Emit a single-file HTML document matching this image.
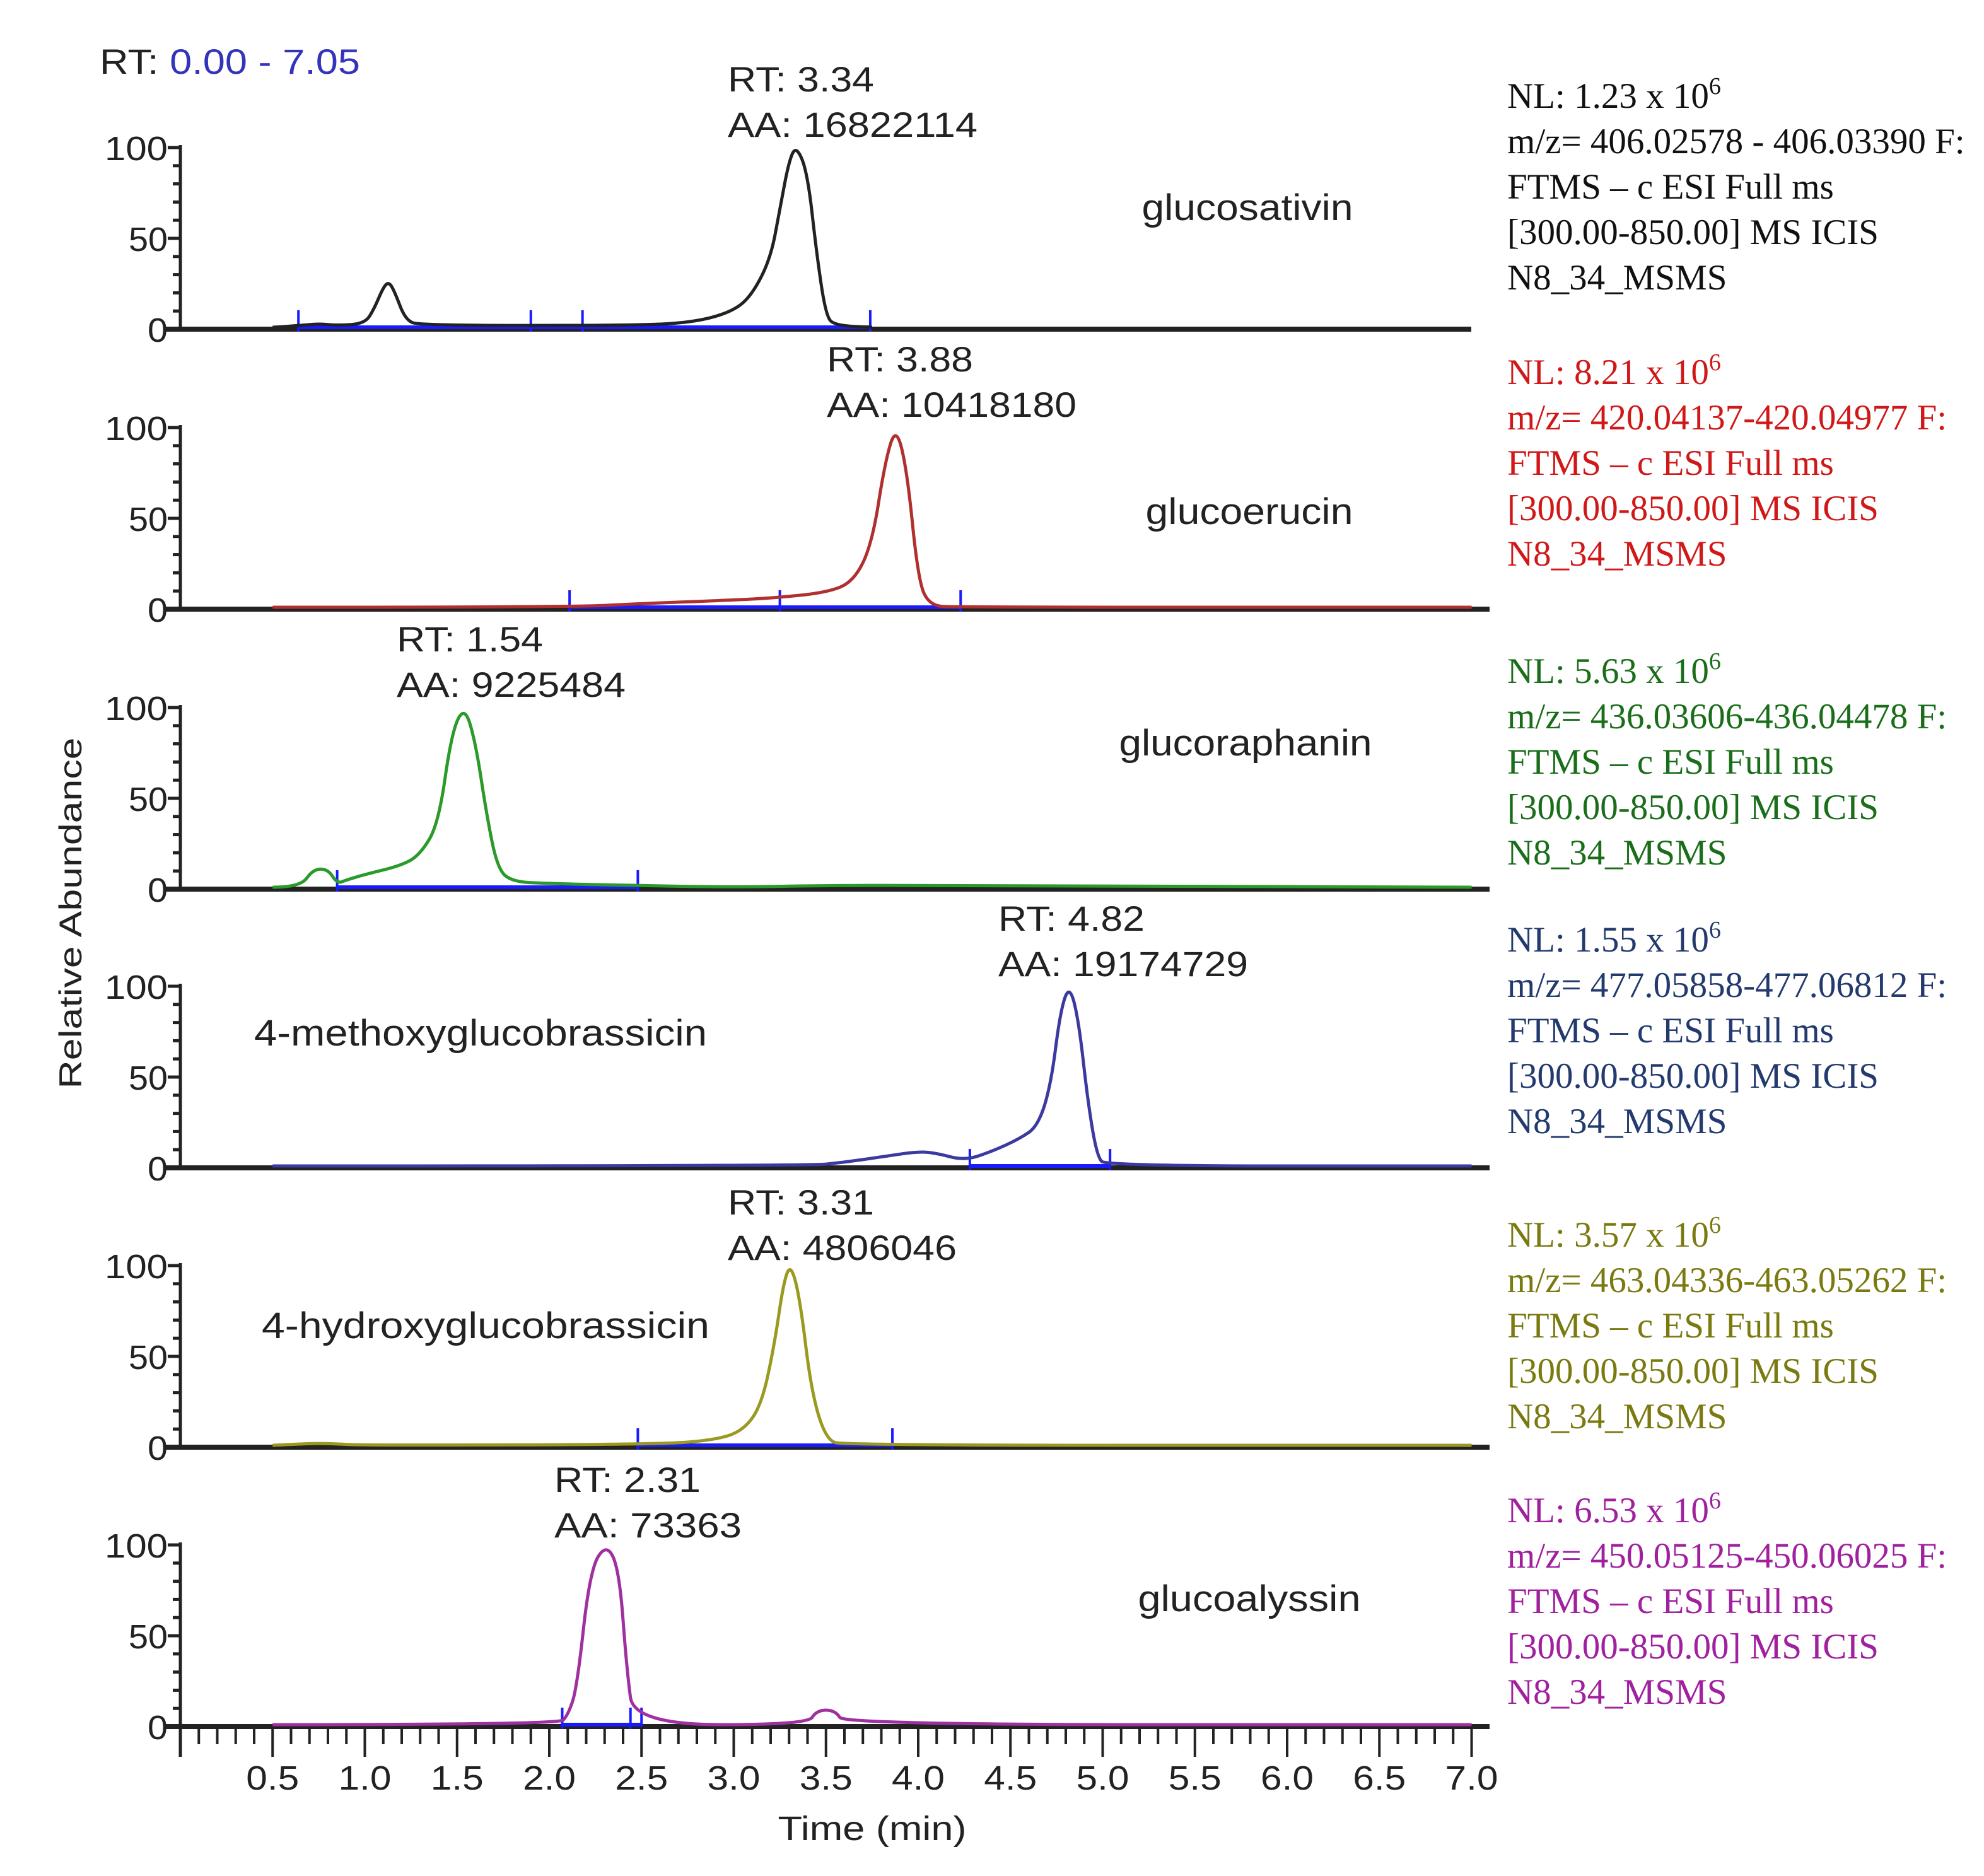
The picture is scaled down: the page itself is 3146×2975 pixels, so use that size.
<!DOCTYPE html>
<html><head><meta charset="utf-8"><style>
html,body{margin:0;padding:0;background:#fff}
svg{display:block}
.s{font-family:"Liberation Sans",sans-serif}
.t{font-family:"Liberation Serif",serif}
</style></head><body>
<svg id="c" width="3146" height="2975" viewBox="0 0 3146 2975" xmlns="http://www.w3.org/2000/svg">
<text class="s" x="158" y="117" font-size="56" textLength="413" lengthAdjust="spacingAndGlyphs"><tspan fill="#222">RT: </tspan><tspan fill="#3333bb">0.00 - 7.05</tspan></text>
<text class="s" x="111" y="1466" font-size="50" fill="#222" text-anchor="middle" textLength="557" lengthAdjust="spacingAndGlyphs" transform="rotate(-90 111 1448)">Relative Abundance</text>
<text class="s" x="1383" y="2918" font-size="54" fill="#222" text-anchor="middle" textLength="299" lengthAdjust="spacingAndGlyphs">Time (min)</text>
</svg>
<script>
const names=["glucosativin","glucoerucin","glucoraphanin","4-methoxyglucobrassicin","4-hydroxyglucobrassicin","glucoalyssin"];
const colors=["#222222","#b03030","#2a9a2a","#3a3aa0","#9a9a20","#a030a0"];
const textColors=["#111111","#d01818","#1a6e1a","#233a6e","#7a7a10","#a020a0"];
const rts=["3.34","3.88","1.54","4.82","3.31","2.31"];
const areas=["16822114","10418180","9225484","19174729","4806046","73363"];
const nls=["1.23","8.21","5.63","1.55","3.57","6.53"];
const mzs=["406.02578  - 406.03390  F:","420.04137-420.04977  F:","436.03606-436.04478  F:","477.05858-477.06812  F:","463.04336-463.05262  F:","450.05125-450.06025  F:"];
const s0t=[0.5,0.65,0.75,0.85,1.0,1.05,1.1,1.13,1.16,1.22,1.3,2.5,2.8,3.0,3.1,3.2,3.25,3.3,3.34,3.4,3.45,3.5,3.55,3.75];
const s0y=[0,1,2,1,2,10,22,25,20,4,1,1,3,9,18,38,65,92,100,85,40,6,1,0];
const s1t=[0.5,2.1,2.5,3.0,3.2,3.5,3.65,3.75,3.82,3.88,3.94,4.0,4.06,4.2,7.0];
const s1y=[0,0,2,4,5,8,14,35,80,100,75,15,1,0,0];
const s2t=[0.5,0.65,0.72,0.8,0.85,0.9,1.0,1.2,1.3,1.4,1.47,1.54,1.6,1.66,1.72,1.8,2.0,2.45,3.0,3.5,4.0,7.0];
const s2y=[0,0,10,10,2,4,7,12,18,35,85,100,80,40,10,3,2,1,0,1,1,0];
const s3t=[0.5,3.4,3.6,3.8,4.0,4.1,4.25,4.4,4.55,4.65,4.72,4.77,4.82,4.87,4.92,4.97,5.02,7.0];
const s3y=[0,0,2,5,8,7,3,8,15,22,45,85,100,80,35,5,0,0];
const s4t=[0.5,0.7,0.8,1.0,2.6,2.9,3.05,3.15,3.22,3.27,3.31,3.36,3.42,3.5,3.6,7.0];
const s4y=[0,1,1,0,0.5,3,8,22,55,90,100,80,30,3,0,0];
const s5t=[0.5,2.05,2.1,2.15,2.22,2.31,2.38,2.42,2.46,3.4,3.45,3.55,3.6,7.0];
const s5y=[0,0,5,20,85,100,85,30,0,0,8,8,0,0];
const seriesT=[s0t,s1t,s2t,s3t,s4t,s5t];
const seriesY=[s0y,s1y,s2y,s3y,s4y,s5y];
const integTicks=[[0.64,1.9,2.18,3.74],[2.11,3.25,4.23],[0.85,2.48],[4.28,5.04],[2.48,3.86],[2.07,2.44,2.5]];
const yTicks=[0,50,100];
const xTickLabels=["0.5","1.0","1.5","2.0","2.5","3.0","3.5","4.0","4.5","5.0","5.5","6.0","6.5","7.0"];
const labelPos=[[1978,329],[1981,811],[1975,1178],[762,1638],[770,2102],[1981,2535]];
const labelLen=[335,329,401,718,710,353];
const peakLabelX=[1154,1311,629,1583,1154,879];
const peakLabelY=[125,569,1013,1456,1906,2346];
const textTop=[151,589,1063,1489,1957,2394];

const svg=document.getElementById('c');
const NS="http://www.w3.org/2000/svg";
const X0=286, XS=292.5, H=288;
const base=[522,966,1410,1852,2295,2738];
const xs=t=>X0+XS*t;
function mk(tag,attrs,parent){const e=document.createElementNS(NS,tag);for(const k in attrs)e.setAttribute(k,attrs[k]);(parent||svg).appendChild(e);return e;}

for(let p=0;p<6;p++){
  const b=base[p];const ys=v=>b-H*v/100;
  const g=mk('g',{});
  
  
  const ax=mk('line',{x1:X0,y1:ys(100)-4,x2:X0,y2:b+(p==5?48:4),stroke:'#222','stroke-width':5},g);
  
  
  for(let v=0;v<=100;v+=10){
    const tk=mk('line',{x1:X0-(v%50==0?20:12),y1:ys(v),x2:X0,y2:ys(v),stroke:'#222','stroke-width':5},g);
    
    
  }
  yTicks.forEach(v=>{
    const tl=mk('text',{x:X0-20,y:ys(v)+20,'font-size':54,fill:'#222','text-anchor':'end','class':'s',textLength:(v==100?100:v==50?62:32),lengthAdjust:'spacingAndGlyphs'},g);
    tl.textContent=v;
    
    
  });
  const xend=p==0?2333:2362;
  const bl=mk('line',{x1:262,y1:b,x2:xend,y2:b,stroke:'#222','stroke-width':8},g);
  
  
  const it=integTicks[p];
  const ib=mk('line',{x1:xs(it[0]),y1:b-3,x2:xs(it[it.length-1]),y2:b-3,stroke:'#1a1aff','stroke-width':6},g);
  
  
  it.forEach(t=>{
    const m=mk('line',{x1:xs(t),y1:b-30,x2:xs(t),y2:b+4,stroke:'#1a1aff','stroke-width':4},g);
    
    
  });
  const T=seriesT[p],Y=seriesY[p];
  const P=T.map((t,i)=>[xs(t),ys(Y[i])-3]);
  let d='M'+P[0][0].toFixed(1)+' '+P[0][1].toFixed(1);
  for(let i=1;i<P.length-1;i++){const mx=(P[i][0]+P[i+1][0])/2,my=(P[i][1]+P[i+1][1])/2;d+='Q'+P[i][0].toFixed(1)+' '+P[i][1].toFixed(1)+' '+mx.toFixed(1)+' '+my.toFixed(1);}
  d+='L'+P[P.length-1][0].toFixed(1)+' '+P[P.length-1][1].toFixed(1);
  const ln=mk('path',{d:d,fill:'none',stroke:colors[p],'stroke-width':5,'stroke-linejoin':'round'},g);
  
  
  const nm=mk('text',{x:labelPos[p][0],y:labelPos[p][1]+20,'font-size':58,fill:'#222','text-anchor':'middle','class':'s',textLength:labelLen[p],lengthAdjust:'spacingAndGlyphs'},g);
  nm.textContent=names[p];
  
  
  const r=mk('text',{x:peakLabelX[p],y:peakLabelY[p]+20,'font-size':56,fill:'#222','class':'s',textLength:232,lengthAdjust:'spacingAndGlyphs'},g);
  r.textContent='RT: '+rts[p];
  
  
  const a=mk('text',{x:peakLabelX[p],y:peakLabelY[p]+92,'font-size':56,fill:'#222','class':'s',textLength:(4+areas[p].length)*33,lengthAdjust:'spacingAndGlyphs'},g);
  a.textContent='AA: '+areas[p];
  
  
  const tc=textColors[p],ty=textTop[p];
  const lines=['NL: '+nls[p]+' x 10','m/z= '+mzs[p],'FTMS \u2013 c ESI Full  ms','[300.00-850.00]  MS ICIS','N8_34_MSMS'];
  lines.forEach((s,i)=>{
    const tx=mk('text',{x:2390,y:ty+20+i*72,'font-size':57,fill:tc,'class':'t'},g);
    tx.textContent=s;
    if(i==0){const sp=mk('tspan',{dy:-22,'font-size':38},tx);sp.textContent='6';}
    
    
  });
}
const bb=base[5];
for(let i=0;i<=70;i++){
  const t=i/10;const major=i%5==0;
  const tk=mk('line',{x1:xs(t),y1:bb,x2:xs(t),y2:bb+(major?48:28),stroke:'#222','stroke-width':4});
  
  
}
xTickLabels.forEach(s=>{
  const tl=mk('text',{x:xs(parseFloat(s)),y:2838,'font-size':54,fill:'#222','text-anchor':'middle','class':'s',textLength:84,lengthAdjust:'spacingAndGlyphs'});
  tl.textContent=s;
  
  
});
</script>
</body></html>
